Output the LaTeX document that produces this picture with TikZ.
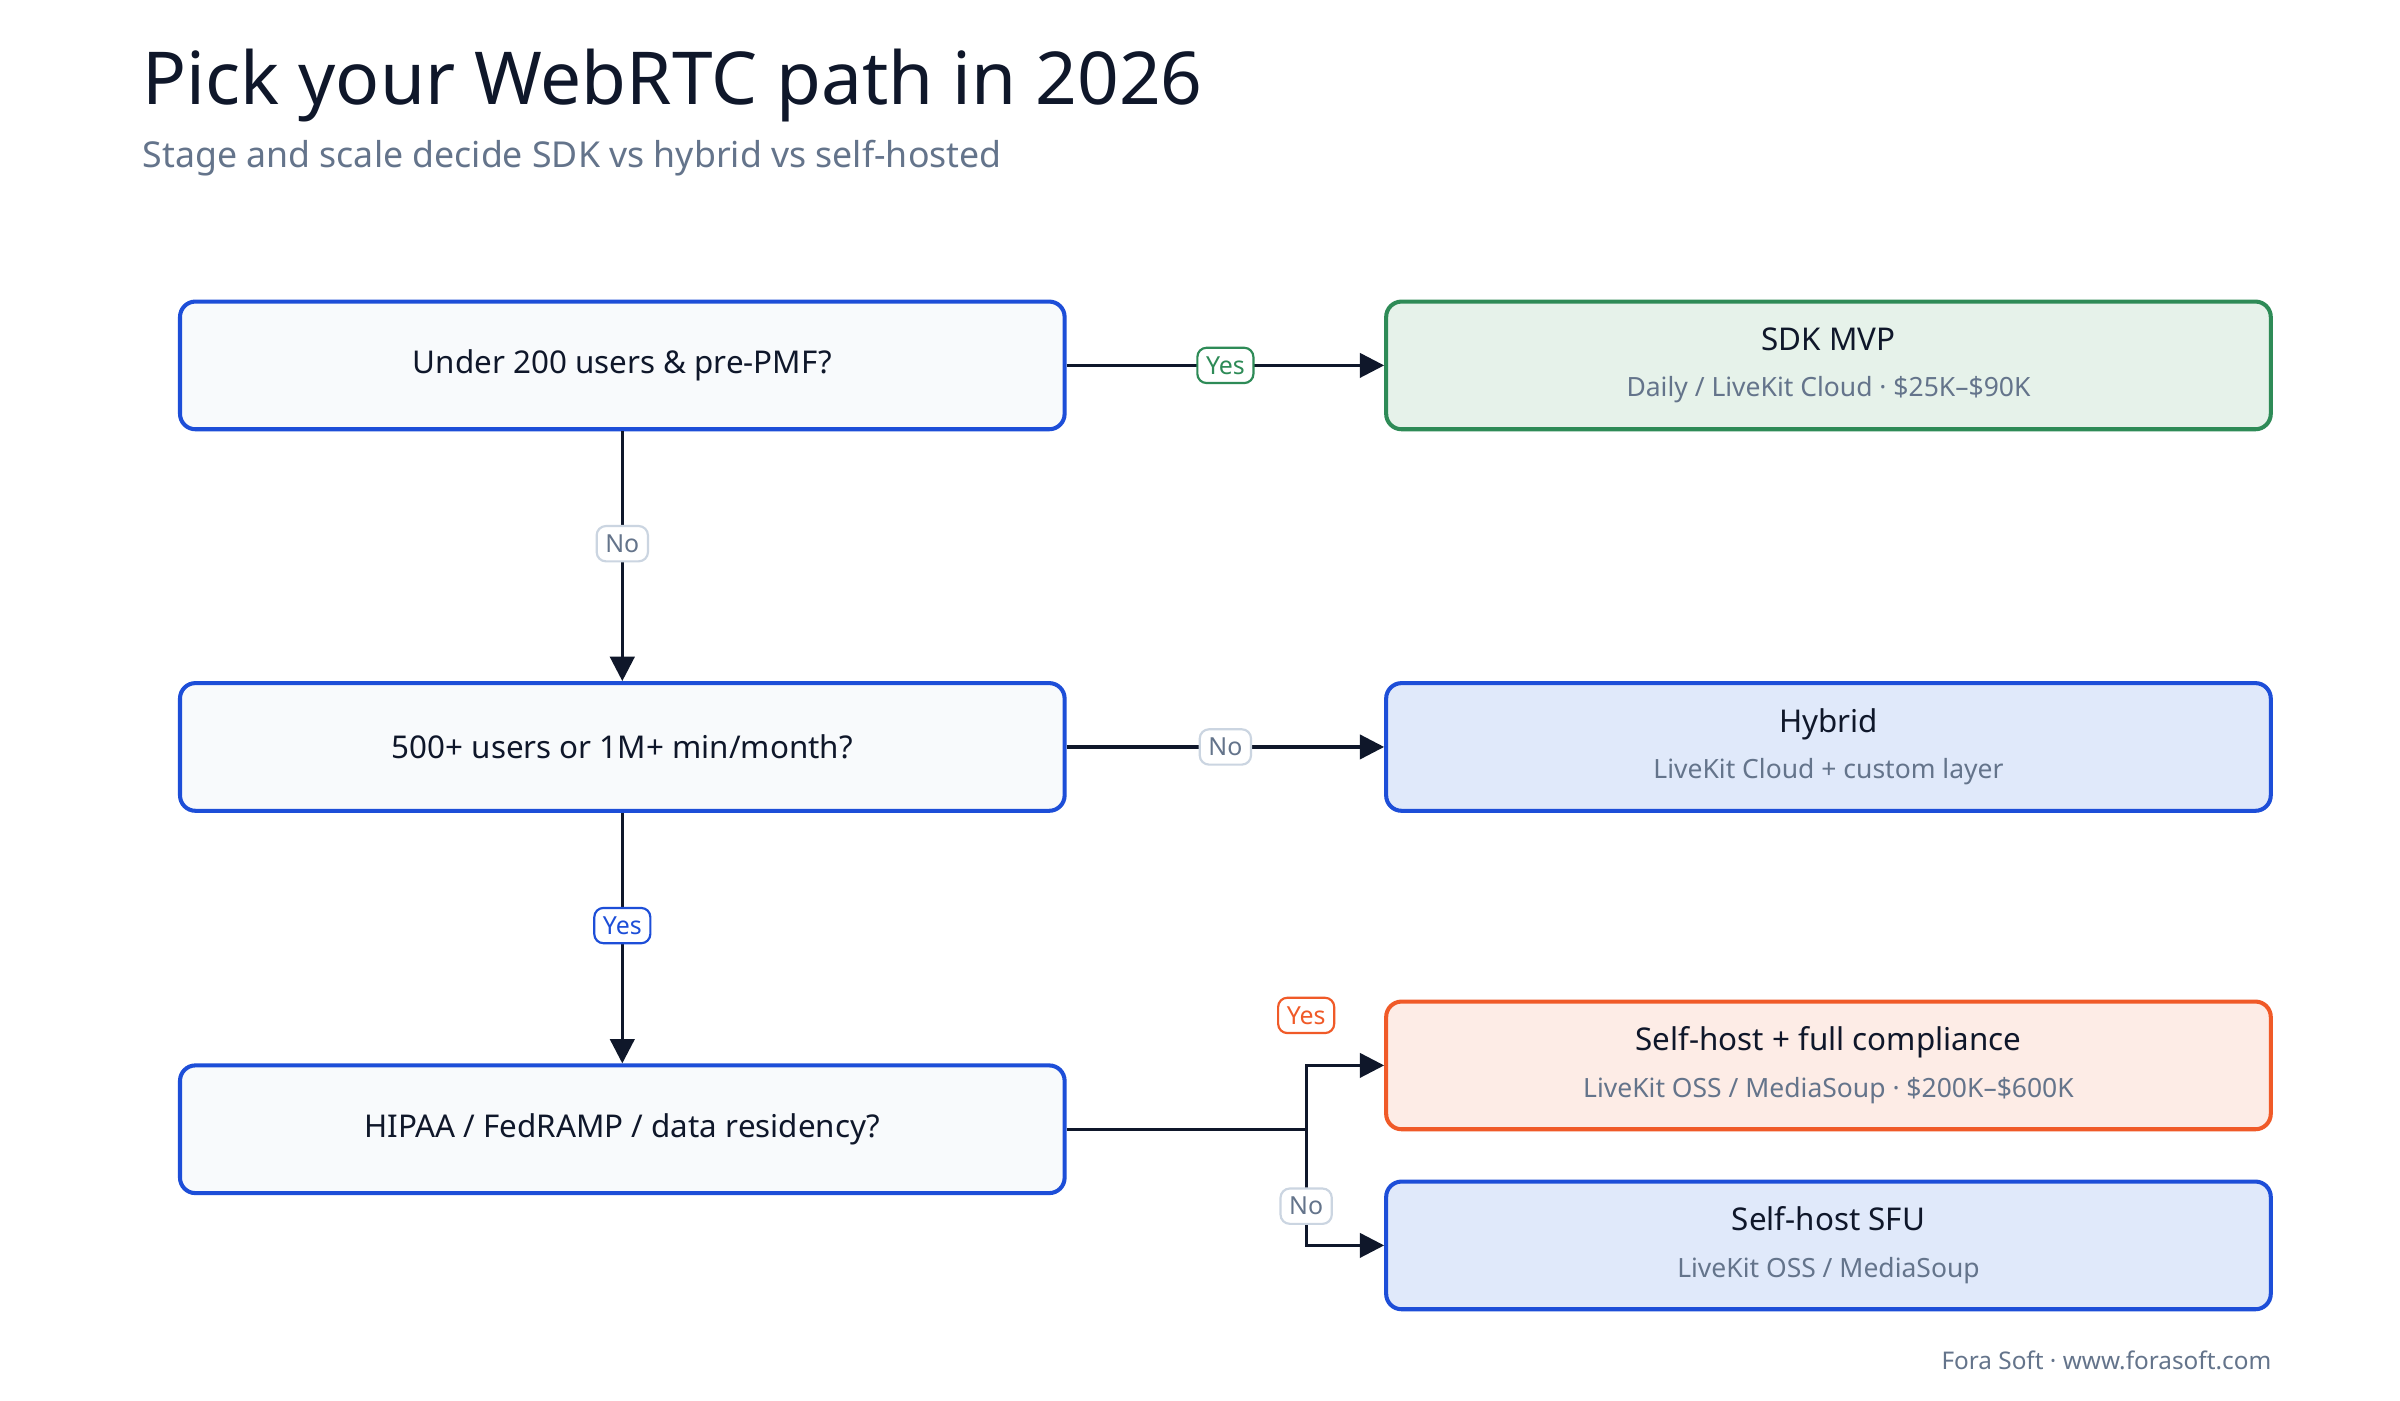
\documentclass[tikz,border=0pt]{standalone}
\usepackage{fontspec}
\setmainfont{Noto Sans}
\usetikzlibrary{arrows.meta}
\definecolor{ink}{HTML}{0F172A}
\definecolor{subgray}{HTML}{64748B}
\definecolor{qblue}{HTML}{1D4ED8}
\definecolor{qfill}{HTML}{F8FAFC}
\definecolor{sgreen}{HTML}{2E8B57}
\definecolor{sgreenfill}{HTML}{E6F2EA}
\definecolor{hfill}{HTML}{E0E9FA}
\definecolor{sorange}{HTML}{F05A28}
\definecolor{sorangefill}{HTML}{FDECE6}
\definecolor{nogray}{HTML}{CBD5E1}
\tikzset{
  question/.style={draw=qblue,fill=qfill,line width=0.75pt,rounded corners=0.1cm,
    minimum width=5.75cm,minimum height=0.83cm,font=\fontsize{5.8}{7}\selectfont\bfseries,text=ink},
  result/.style={draw=#1,line width=0.75pt,rounded corners=0.1cm,
    minimum width=5.75cm,minimum height=0.83cm,align=center,text=ink,
    font=\fontsize{5.8}{7}\selectfont},
  sub/.style={},
  flow/.style={draw=ink,line width=0.6pt,-{Triangle[length=4.5pt,width=4.5pt]}},
  tag/.style={draw=#1,text=#1,fill=white,line width=0.4pt,rounded corners=0.06cm,
    inner sep=1.6pt,font=\fontsize{4.6}{5}\selectfont\bfseries},
}
\newcommand{\subline}[1]{{\fontsize{4.9}{6}\selectfont\color{subgray}#1}}
\begin{document}
\begin{tikzpicture}[x=0.1mm,y=-0.1mm]
\useasboundingbox[fill=white] (0,0) rectangle (1560,910);

\node[anchor=base west,inner sep=0,text=ink,font=\fontsize{13.5}{15}\selectfont\bfseries] (title) at (92,68) {Pick your WebRTC path in 2026};
\node[anchor=base west,inner sep=0,text=subgray,font=\fontsize{6.6}{8}\selectfont] (subtitle) at (92,109) {Stage and scale decide SDK vs hybrid vs self-hosted};

% questions
\node[question] (q1) at (404.5,237.5) {Under 200 users \& pre-PMF?};
\node[question] (q2) at (404.5,485.5) {500+ users or 1M+ min/month?};
\node[question] (q3) at (404.5,734) {HIPAA / FedRAMP / data residency?};

% outcomes
\node[result=sgreen,fill=sgreenfill] (sdk) at (1188.5,237.5) {\textbf{SDK MVP}\\[1.6pt]\subline{Daily / LiveKit Cloud · \$25K–\$90K}};
\node[result=qblue,fill=hfill] (hybrid) at (1188.5,485.5) {\textbf{Hybrid}\\[1.6pt]\subline{LiveKit Cloud + custom layer}};
\node[result=sorange,fill=sorangefill] (full) at (1188.5,692.5) {\textbf{Self-host + full compliance}\\[1.6pt]\subline{LiveKit OSS / MediaSoup · \$200K–\$600K}};
\node[result=qblue,fill=hfill] (sfu) at (1188.5,809.5) {\textbf{Self-host SFU}\\[1.6pt]\subline{LiveKit OSS / MediaSoup}};

% connectors
\draw[flow] (q1) -- node[tag=subgray,draw=nogray,pos=0.45] {No} (q2);
\draw[flow] (q2) -- node[tag=qblue,pos=0.45] {Yes} (q3);
\draw[flow] (q1) -- node[tag=sgreen,pos=0.5] {Yes} (sdk);
\draw[flow] (q2) -- node[tag=subgray,draw=nogray,pos=0.5] {No} (hybrid);

\coordinate (split) at (849,734);
\draw[draw=ink,line width=0.6pt] (q3.east) -- (split);
\draw[flow] (split) |- (full.west);
\draw[flow] (split) |- (sfu.west);
\node[tag=sorange] (yes3) at (849,660) {Yes};
\node[tag=subgray,draw=nogray] (no3) at (849,784) {No};

\node[anchor=base east,inner sep=0,text=subgray,font=\fontsize{4.5}{5}\selectfont] (footer) at (1477,890) {Fora Soft · www.forasoft.com};
\end{tikzpicture}
\end{document}
